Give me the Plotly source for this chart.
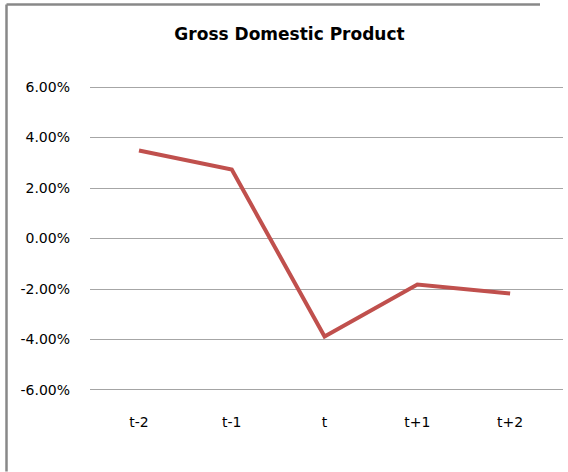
import plotly.graph_objects as go

categories = ["t-2", "t-1", "t", "t+1", "t+2"]
gdp_growth = [0.0349, 0.0273, -0.0388, -0.0182, -0.0218]
y_ticks = [-0.06, -0.04, -0.02, 0.0, 0.02, 0.04, 0.06]
y_tick_labels = ["-6.00%", "-4.00%", "-2.00%", "0.00%", "2.00%", "4.00%", "6.00%"]

W, H = 568, 472
L, R, T, B = 90, 563, 82, 390  # plot area in pixels

fig = go.Figure()
fig.add_trace(go.Scatter(
    x=list(range(len(categories))), y=gdp_growth, mode="lines",
    line=dict(color="#C0504D", width=4), hoverinfo="skip", showlegend=False,
))

def px2paper_x(px):
    return (px - L) / (R - L)

def px2paper_y(py):
    return (B - py) / (B - T)

# outer chart border: left and top
lx, ty, by = px2paper_x(6.5), px2paper_y(4.5), px2paper_y(471.5)
fig.add_shape(type="line", xref="paper", yref="paper",
              x0=lx, x1=lx, y0=ty, y1=by,
              line=dict(color="#888888", width=2.5))
fig.add_shape(type="line", xref="paper", yref="paper",
              x0=lx, x1=px2paper_x(540), y0=ty, y1=ty,
              line=dict(color="#888888", width=2.5))

fig.update_layout(
    width=W, height=H,
    margin=dict(l=L, r=W - R, t=T, b=H - B, pad=0),
    paper_bgcolor="white", plot_bgcolor="white",
    font=dict(family="DejaVu Sans", size=14, color="black"),
    title=dict(text="<b>Gross Domestic Product</b>", x=289.5 / W, xanchor="center",
               y=1 - 34 / H, yanchor="middle",
               font=dict(family="DejaVu Sans", size=17, color="black")),
    xaxis=dict(
        range=[-0.528, 4.57], tickmode="array",
        tickvals=list(range(len(categories))), ticktext=categories,
        showgrid=False, zeroline=False, showline=False, ticks="",
        ticklabelstandoff=22, fixedrange=True,
    ),
    yaxis=dict(
        range=[-0.06, 0.062], tickmode="array", tickvals=y_ticks, ticktext=y_tick_labels,
        showgrid=True, gridcolor="#A6A6A6", gridwidth=1.3, zeroline=False,
        showline=False, ticks="", ticklabelstandoff=19, fixedrange=True,
    ),
)
# darker category axis line at the bottom
fig.add_shape(type="line", xref="paper", yref="y", x0=0, x1=1, y0=-0.06, y1=-0.06,
              line=dict(color="#868686", width=1.5))

fig.write_html("out.html", config={"displayModeBar": False},
               post_script="document.body.style.margin='0';document.body.style.overflow='hidden';")
